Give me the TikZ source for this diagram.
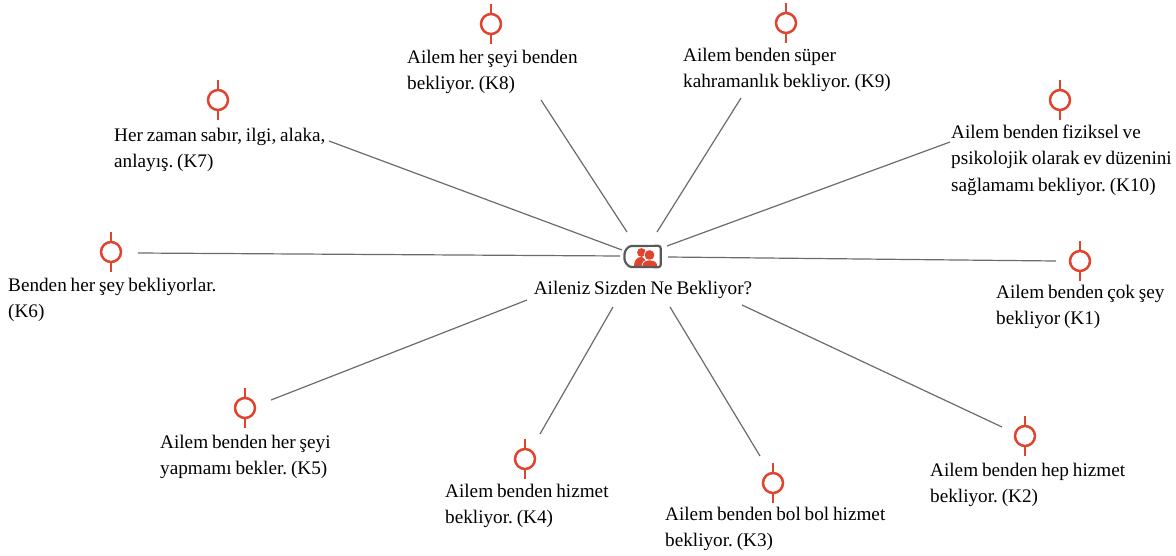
\documentclass[tikz,border=0pt]{standalone}
\usepackage{fontspec}
\setmainfont[WordSpace=0.8]{Liberation Serif}
\frenchspacing
\definecolor{myred}{HTML}{E0442E}
\tikzset{
  lbl/.style={anchor=west,inner sep=0pt,align=left,text=black,font=\fontsize{19.2}{26.5}\selectfont},
  conn/.style={draw=black!58,line width=1.2pt},
  ring/.style={circle,draw=myred,line width=2.5pt,minimum size=20pt,inner sep=0pt,fill=white},
}
\newcommand{\pin}[3]{%
  \node[ring] (#1) at (#2,#3) {};
  \draw[myred,line width=2.5pt] (#1.north) -- ++(0,-9);
  \draw[myred,line width=2.5pt] (#1.south) -- ++(0,9);
}
\begin{document}
\begin{tikzpicture}[x=1pt,y=-1pt]
\useasboundingbox (0,0) rectangle (1176,555);
% hub icon
\node[inner sep=0pt,minimum width=36pt,minimum height=21pt] (hub) at (642.5,256.5) {};
\fill[myred] (641.5,252.5) circle (4.4);
\fill[myred] (634,266.5) .. controls (634,261) and (636.5,257) .. (641,257) .. controls (644,257) and (646,260) .. (646,266.5) -- cycle;
\fill[myred,draw=white,line width=.7pt] (649.5,255) circle (5.4);
\fill[myred,draw=white,line width=.7pt] (642,267) .. controls (642,262) and (644.5,260) .. (649.5,260) .. controls (654.5,260) and (658,262) .. (658,267) -- cycle;
\draw[black!65,line width=2.2pt,rounded corners=2.5pt] (hub.north east) -- (634,246) .. controls (628,246) and (624.5,251) .. (624.5,256.5) .. controls (624.5,262) and (628,267) .. (634,267) -- (hub.south east) -- cycle;
\node[lbl,anchor=center] (title) at (643,289.5) {Aileniz Sizden Ne Bekliyor?};
% pins
\pin{p8}{491}{24}
\pin{p9}{786}{23}
\pin{p7}{218}{100}
\pin{p10}{1060}{100}
\pin{p6}{111}{252}
\pin{p1}{1080}{261}
\pin{p5}{245}{408}
\pin{p4}{525}{459}
\pin{p3}{773}{483}
\pin{p2}{1025}{436}
% labels
\node[lbl] (t8) at (407,72) {Ailem her şeyi benden\\bekliyor. (K8)};
\node[lbl] (t9) at (683,70) {Ailem benden süper\\kahramanlık bekliyor. (K9)};
\node[lbl] (t7) at (114,150) {Her zaman sabır, ilgi, alaka,\\anlayış. (K7)};
\node[lbl] (t10) at (951,160) {Ailem benden fiziksel ve\\psikolojik olarak ev düzenini\\sağlamamı bekliyor. (K10)};
\node[lbl] (t6) at (8,300) {Benden her şey bekliyorlar.\\(K6)};
\node[lbl] (t1) at (996,307) {Ailem benden çok şey\\bekliyor (K1)};
\node[lbl] (t5) at (160,457) {Ailem benden her şeyi\\yapmamı bekler. (K5)};
\node[lbl] (t4) at (445,506) {Ailem benden hizmet\\bekliyor. (K4)};
\node[lbl] (t3) at (665,529) {Ailem benden bol bol hizmet\\bekliyor. (K3)};
\node[lbl] (t2) at (930,485) {Ailem benden hep hizmet\\bekliyor. (K2)};
% connector ends
\coordinate (a6) at (620,256); \coordinate (b6) at (138,253);
\coordinate (a7) at (622,250); \coordinate (b7) at (329,141);
\coordinate (a8) at (627,232); \coordinate (b8) at (541,100);
\coordinate (a9) at (657,232); \coordinate (b9) at (741,98);
\coordinate (a10) at (667,246); \coordinate (b10) at (950,142);
\coordinate (a1) at (668,257); \coordinate (b1) at (1056,261);
\coordinate (a2) at (742,305); \coordinate (b2) at (1002,427);
\coordinate (a3) at (670,307); \coordinate (b3) at (760,456);
\coordinate (a4) at (613,307); \coordinate (b4) at (540,434);
\coordinate (a5) at (527,300); \coordinate (b5) at (271,400);
\foreach \k in {1,...,10} {\draw[conn] (a\k) -- (b\k);}
\end{tikzpicture}
\end{document}
